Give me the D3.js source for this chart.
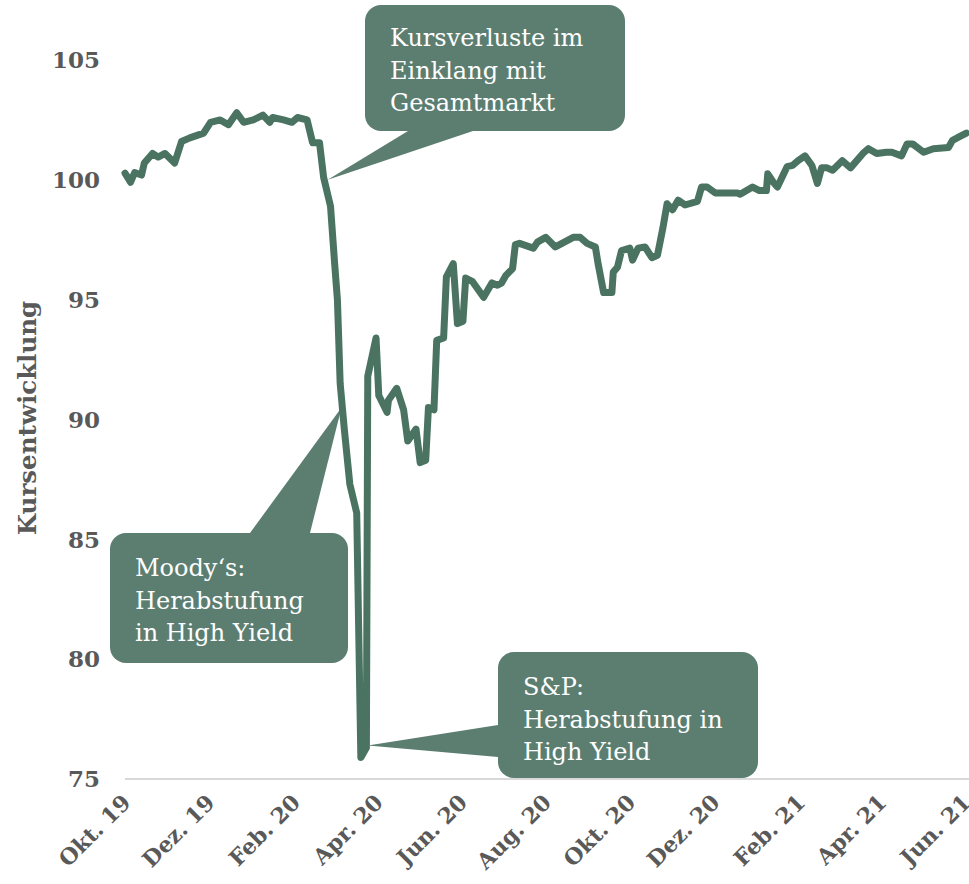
<!DOCTYPE html>
<html>
<head>
<meta charset="utf-8">
<script src="https://cdn.jsdelivr.net/npm/d3@7"></script>
<style>
  body { margin: 0; background: #fff; }
  svg { display: block; }
</style>
</head>
<body>
<svg id="chart" width="969" height="884"></svg>
<script>
// Kursentwicklung
const dates = [
  "2019-10-01","2019-10-05","2019-10-08","2019-10-13","2019-10-15","2019-10-21","2019-10-25","2019-10-30",
  "2019-11-06","2019-11-11","2019-11-17","2019-11-27","2019-12-02","2019-12-09","2019-12-15","2019-12-21",
  "2019-12-26","2020-01-02","2020-01-09","2020-01-14","2020-01-16","2020-01-24","2020-01-30","2020-02-03",
  "2020-02-10","2020-02-14","2020-02-19","2020-02-22","2020-02-27","2020-03-01","2020-03-03","2020-03-05",
  "2020-03-08","2020-03-12","2020-03-17","2020-03-20","2020-03-24","2020-03-25","2020-03-31","2020-04-02",
  "2020-04-08","2020-04-09","2020-04-15","2020-04-20","2020-04-23","2020-04-29","2020-05-02","2020-05-06",
  "2020-05-08","2020-05-12","2020-05-14","2020-05-19","2020-05-21","2020-05-26","2020-05-29","2020-06-02",
  "2020-06-04","2020-06-09","2020-06-17","2020-06-23","2020-06-27","2020-06-30","2020-07-03","2020-07-08",
  "2020-07-10","2020-07-13","2020-07-23","2020-07-26","2020-08-01","2020-08-08","2020-08-21","2020-08-26",
  "2020-08-31","2020-09-06","2020-09-08","2020-09-12","2020-09-18","2020-09-19","2020-09-22","2020-09-25",
  "2020-10-01","2020-10-03","2020-10-07","2020-10-12","2020-10-17","2020-10-21","2020-10-25","2020-10-28",
  "2020-11-01","2020-11-05","2020-11-10","2020-11-19","2020-11-22","2020-11-26","2020-12-02","2020-12-18",
  "2020-12-20","2020-12-29","2021-01-03","2021-01-08","2021-01-09","2021-01-13","2021-01-16","2021-01-23",
  "2021-01-27","2021-01-31","2021-02-05","2021-02-10","2021-02-14","2021-02-17","2021-02-21","2021-02-25",
  "2021-03-04","2021-03-10","2021-03-19","2021-03-23","2021-03-29","2021-04-05","2021-04-09","2021-04-16",
  "2021-04-20","2021-04-24","2021-05-02","2021-05-09","2021-05-20","2021-05-23","2021-05-28","2021-06-02"
];
const values = [
  100.28, 99.9, 100.3, 100.2, 100.7, 101.1, 100.95, 101.1,
  100.7, 101.6, 101.75, 101.95, 102.4, 102.5, 102.3, 102.8,
  102.4, 102.5, 102.7, 102.4, 102.6, 102.5, 102.4, 102.6,
  102.5, 101.55, 101.55, 100.1, 98.9, 96.5, 95.0, 91.5,
  89.6, 87.3, 86.1, 75.9, 76.3, 91.8, 93.4, 91.0,
  90.3, 90.8, 91.3, 90.4, 89.1, 89.6, 88.2, 88.3,
  90.5, 90.4, 93.3, 93.4, 95.95, 96.5, 94.0, 94.1,
  95.9, 95.75, 95.1, 95.7, 95.6, 95.7, 96.0, 96.3,
  97.3, 97.35, 97.15, 97.4, 97.6, 97.2, 97.6, 97.6,
  97.35, 97.2, 96.5, 95.3, 95.3, 96.15, 96.35, 97.05,
  97.15, 96.65, 97.15, 97.2, 96.75, 96.85, 98.0, 99.0,
  98.75, 99.15, 98.95, 99.1, 99.7, 99.7, 99.45, 99.45,
  99.4, 99.7, 99.55, 99.55, 100.25, 99.9, 99.7, 100.55,
  100.6, 100.8, 101.0, 100.6, 99.85, 100.5, 100.5, 100.4,
  100.8, 100.5, 101.1, 101.3, 101.1, 101.15, 101.15, 101.0,
  101.5, 101.5, 101.15, 101.3, 101.35, 101.65, 101.8, 101.95
];

const yTicks = [75, 80, 85, 90, 95, 100, 105];
const xTickDates = ["2019-10-01","2019-12-01","2020-02-01","2020-04-01","2020-06-01","2020-08-01",
                    "2020-10-01","2020-12-01","2021-02-01","2021-04-01","2021-06-01"];
const monthNames = ["Jan.","Feb.","März","Apr.","Mai","Jun.","Jul.","Aug.","Sep.","Okt.","Nov.","Dez."];

// callouts: text lines, anchor point on the line (date, value)
const noteLines = [
  ["Kursverluste im", "Einklang mit", "Gesamtmarkt"],
  ["Moody\u2018s:", "Herabstufung", "in High Yield"],
  ["S&P:", "Herabstufung in", "High Yield"]
];
const noteAnchors = [["2020-02-25", 100.0], ["2020-03-06", 90.5], ["2020-03-25", 76.4]];

const LINE_COLOR = "#4a7362";
const NOTE_FILL = "#5b7e71";
const TEXT_GRAY = "#595959";
const SERIF = "'DejaVu Serif', 'Liberation Serif', serif";

const parse = d3.timeParse("%Y-%m-%d");
const series = dates.map((d, i) => ({ date: parse(d), value: values[i] }));

const svg = d3.select("#chart");

const x = d3.scaleTime()
  .domain([parse("2019-10-01"), parse("2021-06-01")])
  .range([125, 965]);
const y = d3.scaleLinear()
  .domain([75, 105])
  .range([779, 60]);

// baseline grid line at 75
svg.append("line")
  .attr("x1", 125).attr("x2", 969)
  .attr("y1", y(75)).attr("y2", y(75))
  .attr("stroke", "#d9d9d9")
  .attr("stroke-width", 2);

// y tick labels
svg.append("g")
  .selectAll("text")
  .data(yTicks)
  .join("text")
  .attr("x", 100)
  .attr("y", d => y(d))
  .attr("dy", "0.36em")
  .attr("text-anchor", "end")
  .attr("font-family", SERIF)
  .attr("font-weight", "bold")
  .attr("font-size", 23)
  .attr("fill", TEXT_GRAY)
  .text(d => d);

// y axis title
svg.append("text")
  .attr("transform", "translate(36,418) rotate(-90)")
  .attr("text-anchor", "middle")
  .attr("font-family", SERIF)
  .attr("font-weight", "bold")
  .attr("font-size", 24.5)
  .attr("fill", TEXT_GRAY)
  .text("Kursentwicklung");

// x tick labels, rotated
svg.append("g")
  .selectAll("text")
  .data(xTickDates.map(parse))
  .join("text")
  .attr("transform", d => `translate(${x(d) + 7},${804}) rotate(-45)`)
  .attr("text-anchor", "end")
  .attr("font-family", SERIF)
  .attr("font-weight", "bold")
  .attr("font-size", 22)
  .attr("fill", TEXT_GRAY)
  .text(d => monthNames[d.getMonth()] + " " + String(d.getFullYear()).slice(2));

// callout boxes (box rect + pointer base points)
const boxes = [
  { x: 365, y: 5, w: 260, h: 126, base: [[408, 131], [473, 131]], tx: 390, ty: 46 },
  { x: 110, y: 533, w: 238, h: 130, base: [[250, 533], [310, 533]], tx: 135, ty: 576 },
  { x: 498, y: 652, w: 260, h: 126, base: [[498, 725], [498, 757]], tx: 523, ty: 695 }
];

const notes = svg.append("g");
boxes.forEach((b, i) => {
  const a = noteAnchors[i];
  const tip = [x(parse(a[0])), y(a[1])];
  notes.append("rect")
    .attr("x", b.x).attr("y", b.y)
    .attr("width", b.w).attr("height", b.h)
    .attr("rx", 16)
    .attr("fill", NOTE_FILL);
  notes.append("path")
    .attr("d", d3.line()([b.base[0], tip, b.base[1]]) + "Z")
    .attr("fill", NOTE_FILL);
  notes.append("text")
    .attr("font-family", SERIF)
    .attr("font-size", 24)
    .attr("fill", "#fff")
    .selectAll("tspan")
    .data(noteLines[i])
    .join("tspan")
    .attr("x", b.tx)
    .attr("y", (d, j) => b.ty + j * 32.5)
    .text(d => d);
});

// the price line
svg.append("path")
  .datum(series)
  .attr("fill", "none")
  .attr("stroke", LINE_COLOR)
  .attr("stroke-width", 7)
  .attr("stroke-linejoin", "round")
  .attr("stroke-linecap", "round")
  .attr("d", d3.line().x(d => x(d.date)).y(d => y(d.value)));
</script>
</body>
</html>
